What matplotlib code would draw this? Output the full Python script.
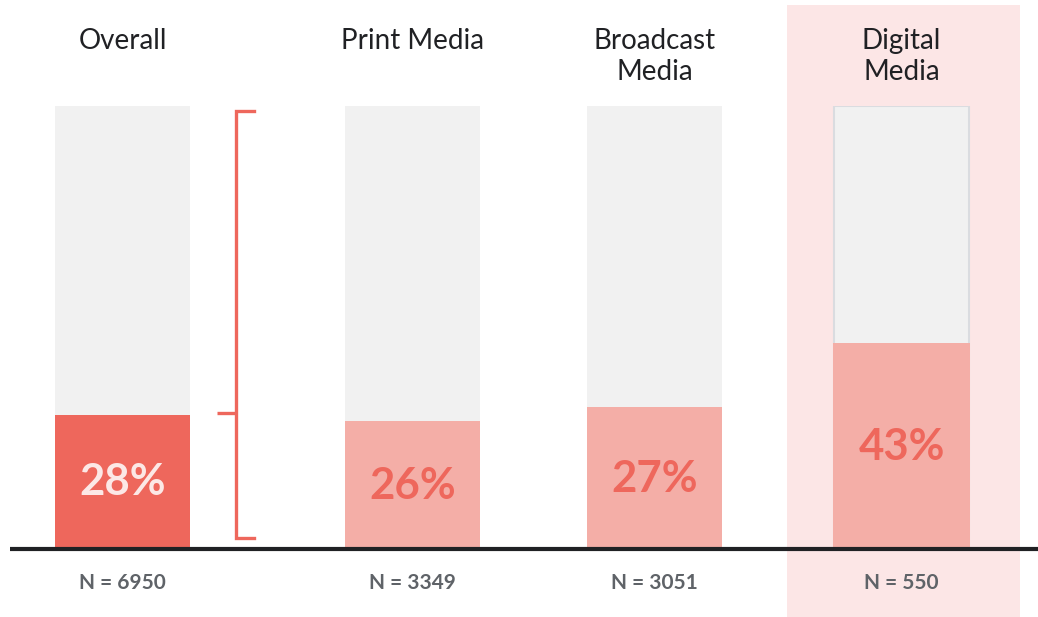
import matplotlib
matplotlib.use("Agg")
import matplotlib.pyplot as plt
from matplotlib.patches import Rectangle

categories = ["Overall", "Print Media", "Broadcast\nMedia", "Digital\nMedia"]
labels_pct = [28, 26, 27, 43]
bar_heights = [30.1, 28.7, 31.9, 46.4]   # visual heights (% of full bar)
n_values = [6950, 3349, 3051, 550]
full = 100

W, H = 1038, 617
fig = plt.figure(figsize=(W / 100, H / 100), dpi=100)
fig.patch.set_facecolor("white")

# highlight behind Digital Media
fig.patches.append(Rectangle((787 / W, 0), (1020 - 787) / W, (617 - 5) / H,
                             transform=fig.transFigure, facecolor="#FCE6E6",
                             edgecolor="none", zorder=-5))

base_px, top_px = 548, 106
ax = fig.add_axes([0, (H - base_px) / H, 1, (base_px - top_px) / H])
ax.set_zorder(1)
ax.set_xlim(0, W)
ax.set_ylim(0, full)
ax.axis("off")
ax.patch.set_alpha(0)

x_pos = [122.5, 412.5, 654.5, 901.5]
width = 135
bar_colors = ["#EE675C", "#F4AEA7", "#F4AEA7", "#F4AEA7"]
text_colors = ["#FCE8E6", "#EE675C", "#EE675C", "#EE675C"]
label_y = [14.9, 14.0, 15.6, 22.9]

font = "Lato"
for i in range(4):
    edge = "#DADCE0" if i == 3 else "none"
    ax.bar(x_pos[i], full, width=width, color="#F1F1F1", edgecolor=edge,
           linewidth=1.5, zorder=2)
    ax.bar(x_pos[i], bar_heights[i], width=width + (1.5 if i == 3 else 0),
           color=bar_colors[i], zorder=3)
    ax.text(x_pos[i], label_y[i], f"{labels_pct[i]}%", ha="center", va="center",
            fontsize=31.5, fontweight="bold", color=text_colors[i], family=font,
            zorder=4)
    for k, line in enumerate(categories[i].split("\n")):
        ax.text(x_pos[i], 114.6 - 7.0 * k, line, ha="center", va="center",
                fontsize=20, color="#202124", family=font, clip_on=False)
    ax.text(x_pos[i], -7.9, f"N = {n_values[i]}", ha="center", va="center",
            fontsize=15, fontweight="bold", color="#5F6368", family=font,
            clip_on=False)

# baseline
ax.plot([10, W], [-0.3, -0.3], color="#202124", lw=3, solid_capstyle="butt",
        clip_on=False, zorder=5)

# bracket
bc = "#EE675C"
bx = 235.5
ax.plot([254, bx, bx, 254], [98.9, 98.9, 2.3, 2.3], color=bc, lw=2.4,
        solid_joinstyle="miter", clip_on=False, zorder=5)
ax.plot([217, bx], [30.5, 30.5], color=bc, lw=2.4, solid_capstyle="butt",
        clip_on=False, zorder=5)

fig.savefig("out.png", dpi=100, facecolor="white")
